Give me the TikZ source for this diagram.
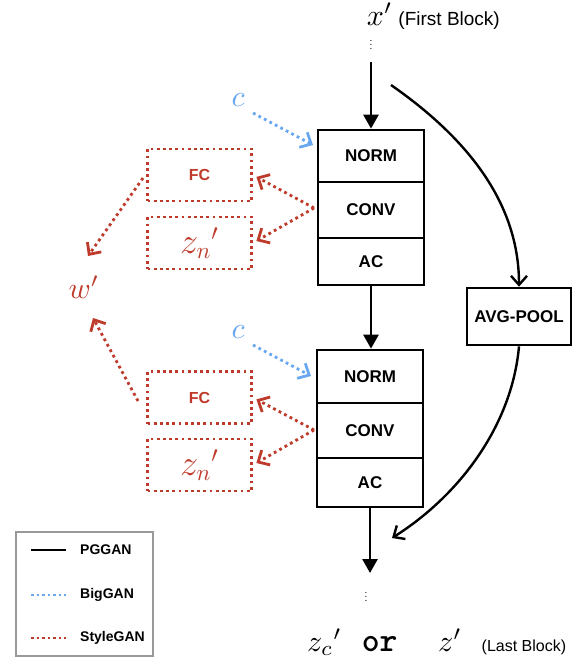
\documentclass[tikz,border=0pt]{standalone}
\usepackage{graphicx}
\usepackage{fontspec}
\setmainfont{Liberation Sans}
\usetikzlibrary{arrows.meta}
\definecolor{sred}{RGB}{190,58,42}
\definecolor{bblue}{RGB}{105,168,238}
\newcommand{\mlett}[2][3]{\scalebox{#1}{$#2$}}
\begin{document}
\begin{tikzpicture}[x=1pt,y=-1pt,
  blk/.style={draw, line width=2.7pt, minimum width=106pt, inner sep=0pt, font=\bfseries\fontsize{17}{19}\selectfont},
  rbox/.style={draw=sred, line width=2.8pt, dash pattern=on 2.8pt off 3.4pt, minimum width=104pt, minimum height=52pt, inner sep=0pt, text=sred, font=\bfseries\fontsize{16}{18}\selectfont},
  blackarrow/.style={line width=2.7pt, -{Triangle[width=15pt,length=14pt]}},
  curvearrow/.style={line width=2.4pt, -{Straight Barb[width=16pt,length=9pt,line width=2.4pt]}},
  redarrow/.style={sred, line width=2.8pt, dash pattern=on 2.8pt off 3.4pt, -{Straight Barb[width=17pt,length=9pt,line width=2.8pt]}},
  bluearrow/.style={bblue, line width=2.8pt, dash pattern=on 2.8pt off 3.4pt, -{Straight Barb[width=17pt,length=9pt,line width=2.8pt]}},
  mathlbl/.style={inner sep=0pt},
  legtext/.style={anchor=west, inner sep=0pt, font=\bfseries\fontsize{14}{16}\selectfont},
]
\useasboundingbox (0,0) rectangle (584,664);

% top text
\node[anchor=base east, inner sep=0pt] (toptext) at (500,25)
  {\mlett{x'}\hspace{6pt}{\fontsize{19}{21}\selectfont (First Block)}};
\node[inner sep=0pt] (dots1) at (371,42) {$\vdots$};

% block 1
\node[blk, minimum height=52pt] (norm1) at (371,156) {NORM};
\node[blk, minimum height=56pt] (conv1) at (371,210) {CONV};
\node[blk, minimum height=47pt] (ac1) at (371,261.5) {AC};

% block 2
\node[blk, minimum height=53pt] (norm2) at (370,376.5) {NORM};
\node[blk, minimum height=55pt] (conv2) at (370,430.5) {CONV};
\node[blk, minimum height=49pt] (ac2) at (370,482.5) {AC};

% avg pool
\node[blk, minimum width=104pt, minimum height=57pt] (pool) at (519,316.5) {AVG-POOL};

% vertical arrows
\coordinate (topstart) at (371,62);
\draw[blackarrow] (topstart) -- (norm1.north);
\draw[blackarrow] (ac1.south) -- (ac1.south |- norm2.north);
\coordinate (botend) at (370,573);
\draw[blackarrow] (ac2.south) -- (botend);
\node[inner sep=0pt] (dots2) at (366,594) {$\vdots$};

% skip curves
\coordinate (cstart) at (391,85);
\draw[curvearrow] (cstart) .. controls (470,140) and (519,205) .. (pool.north);
\coordinate (cend) at (392,538);
\draw[curvearrow] (pool.south) .. controls (512,425) and (460,495) .. (cend);

% bottom text
\node[anchor=base west, inner sep=0pt] (bottext) at (307,651)
  {\hbox to 259pt{\mlett{z_c{}'}\hspace{20pt}{\ttfamily\bfseries\fontsize{34}{36}\selectfont or}\hfill\mlett{z'}\hspace{20pt}{\fontsize{16}{18}\selectfont (Last Block)}}};

% BigGAN conditions
\node[mathlbl, text=bblue] (c1) at (238,100) {\mlett{c}};
\coordinate (b1s) at (253,113);
\coordinate (b1e) at (313,145);
\draw[bluearrow] (b1s) -- (b1e);
\node[mathlbl, text=bblue] (c2) at (238,332) {\mlett{c}};
\coordinate (b2s) at (253,345);
\coordinate (b2e) at (311,376);
\draw[bluearrow] (b2s) -- (b2e);

% StyleGAN boxes
\node[rbox] (fc1) at (199.5,175) {FC};
\node[rbox] (zn1) at (199.5,243) {\mdseries\mlett[2.1]{z_n{}'}};
\node[rbox] (fc2) at (199.5,397.5) {FC};
\node[rbox] (zn2) at (199.5,465) {\mdseries\mlett[2.1]{z_n{}'}};

\coordinate (r1) at (314,208);
\draw[redarrow, shorten >=4pt] (r1) -- (fc1.east);
\draw[redarrow, shorten >=4pt] (r1) -- (zn1.east);
\coordinate (r2) at (314,430);
\draw[redarrow, shorten >=4pt] (r2) -- (fc2.east);
\draw[redarrow, shorten >=4pt] (r2) -- (zn2.east);

% w'
\node[mathlbl, text=sred] (w) at (84,287) {\mlett{w'}};
\coordinate (w1s) at (143,178);
\coordinate (wt) at (88,256);
\draw[redarrow] (w1s) -- (wt);
\coordinate (w2s) at (138,401);
\coordinate (wb) at (93,318);
\draw[redarrow] (w2s) -- (wb);

% legend
\node[draw=black!40, line width=1.3pt, minimum width=137pt, minimum height=124pt, inner sep=0pt] (leg) at (84.5,594) {};
\coordinate (l1a) at (31,550); \coordinate (l1b) at (66,550);
\draw[line width=2.7pt] (l1a) -- (l1b);
\node[legtext] (lt1) at (80,550) {PGGAN};
\coordinate (l2a) at (31,595); \coordinate (l2b) at (66,595);
\draw[bblue, line width=2.2pt, dash pattern=on 2.5pt off 3pt] (l2a) -- (l2b);
\node[legtext] (lt2) at (80,595) {BigGAN};
\coordinate (l3a) at (31,638); \coordinate (l3b) at (66,638);
\draw[sred, line width=2.2pt, dash pattern=on 2.5pt off 3pt] (l3a) -- (l3b);
\node[legtext] (lt3) at (80,638) {StyleGAN};
\end{tikzpicture}
\end{document}
